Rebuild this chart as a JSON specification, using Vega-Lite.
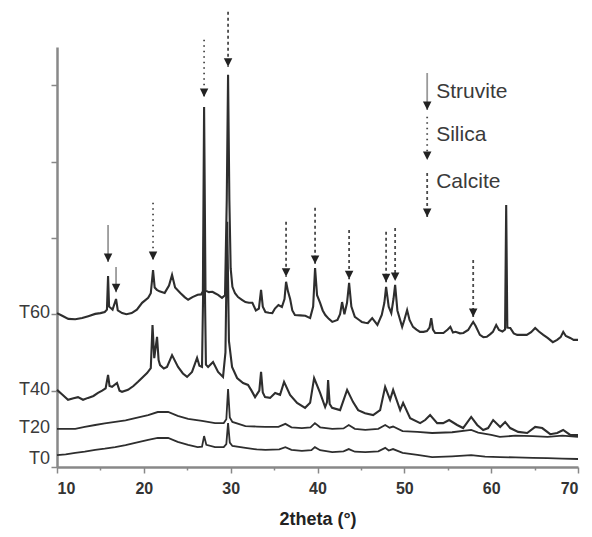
{
  "$schema": "https://vega.github.io/schema/vega-lite/v6.json",
  "width": 521,
  "height": 420,
  "autosize": {"type": "none"},
  "padding": {"left": 57, "top": 47, "right": 14, "bottom": 70},
  "config": {
    "view": {"stroke": null},
    "font": "Liberation Sans"
  },
  "datasets": {
    "T0": [
      {"theta": 10.0, "intensity": 31}, {"theta": 11.0, "intensity": 33}, {"theta": 12.1, "intensity": 37}, {"theta": 13.2, "intensity": 40},
      {"theta": 14.4, "intensity": 45}, {"theta": 15.5, "intensity": 48}, {"theta": 16.7, "intensity": 52}, {"theta": 17.9, "intensity": 57},
      {"theta": 19.0, "intensity": 63}, {"theta": 20.5, "intensity": 71}, {"theta": 21.6, "intensity": 76}, {"theta": 22.8, "intensity": 76},
      {"theta": 23.9, "intensity": 66}, {"theta": 25.1, "intensity": 58}, {"theta": 26.2, "intensity": 52}, {"theta": 26.7, "intensity": 53},
      {"theta": 26.94, "intensity": 81}, {"theta": 27.2, "intensity": 58}, {"theta": 28.2, "intensity": 52}, {"theta": 29.2, "intensity": 52},
      {"theta": 29.5, "intensity": 60}, {"theta": 29.7, "intensity": 115}, {"theta": 29.9, "intensity": 64}, {"theta": 30.2, "intensity": 55},
      {"theta": 31.7, "intensity": 50}, {"theta": 33.0, "intensity": 46}, {"theta": 34.0, "intensity": 45}, {"theta": 35.6, "intensity": 46},
      {"theta": 36.3, "intensity": 52}, {"theta": 37.0, "intensity": 45}, {"theta": 38.2, "intensity": 42}, {"theta": 39.3, "intensity": 44},
      {"theta": 39.7, "intensity": 52}, {"theta": 40.3, "intensity": 44}, {"theta": 41.7, "intensity": 39}, {"theta": 43.0, "intensity": 41},
      {"theta": 43.6, "intensity": 47}, {"theta": 44.3, "intensity": 40}, {"theta": 45.5, "intensity": 39}, {"theta": 47.0, "intensity": 41},
      {"theta": 47.8, "intensity": 50}, {"theta": 48.2, "intensity": 43}, {"theta": 48.7, "intensity": 47}, {"theta": 49.8, "intensity": 37},
      {"theta": 51.5, "intensity": 32}, {"theta": 53.2, "intensity": 26}, {"theta": 55.5, "intensity": 28}, {"theta": 57.7, "intensity": 31},
      {"theta": 59.3, "intensity": 27}, {"theta": 61.0, "intensity": 26}, {"theta": 62.8, "intensity": 25}, {"theta": 64.8, "intensity": 24},
      {"theta": 66.5, "intensity": 23}, {"theta": 68.2, "intensity": 22}, {"theta": 70.0, "intensity": 21}
    ],
    "T20": [
      {"theta": 10.0, "intensity": 100}, {"theta": 11.0, "intensity": 100}, {"theta": 12.1, "intensity": 100}, {"theta": 13.2, "intensity": 105},
      {"theta": 14.4, "intensity": 110}, {"theta": 15.5, "intensity": 114}, {"theta": 16.7, "intensity": 118}, {"theta": 17.9, "intensity": 122},
      {"theta": 19.0, "intensity": 128}, {"theta": 20.5, "intensity": 136}, {"theta": 21.6, "intensity": 144}, {"theta": 22.8, "intensity": 144},
      {"theta": 23.9, "intensity": 134}, {"theta": 25.1, "intensity": 126}, {"theta": 26.7, "intensity": 121}, {"theta": 28.2, "intensity": 115},
      {"theta": 29.2, "intensity": 115}, {"theta": 29.5, "intensity": 125}, {"theta": 29.7, "intensity": 204}, {"theta": 29.9, "intensity": 130},
      {"theta": 30.2, "intensity": 118}, {"theta": 31.7, "intensity": 107}, {"theta": 33.0, "intensity": 106}, {"theta": 34.0, "intensity": 105},
      {"theta": 35.5, "intensity": 105}, {"theta": 36.3, "intensity": 113}, {"theta": 37.0, "intensity": 104}, {"theta": 38.2, "intensity": 102},
      {"theta": 39.2, "intensity": 104}, {"theta": 39.7, "intensity": 115}, {"theta": 40.3, "intensity": 104}, {"theta": 41.7, "intensity": 100},
      {"theta": 43.0, "intensity": 101}, {"theta": 43.6, "intensity": 110}, {"theta": 44.3, "intensity": 100}, {"theta": 45.5, "intensity": 97},
      {"theta": 47.0, "intensity": 100}, {"theta": 47.8, "intensity": 110}, {"theta": 48.3, "intensity": 103}, {"theta": 48.7, "intensity": 106},
      {"theta": 49.8, "intensity": 94}, {"theta": 51.5, "intensity": 92}, {"theta": 53.2, "intensity": 89}, {"theta": 55.5, "intensity": 91},
      {"theta": 57.7, "intensity": 97}, {"theta": 58.5, "intensity": 90}, {"theta": 60.0, "intensity": 84}, {"theta": 61.0, "intensity": 79},
      {"theta": 62.8, "intensity": 82}, {"theta": 64.8, "intensity": 81}, {"theta": 66.5, "intensity": 79}, {"theta": 68.2, "intensity": 82},
      {"theta": 70.0, "intensity": 79}
    ],
    "T40": [
      {"theta": 10.0, "intensity": 202}, {"theta": 10.6, "intensity": 190}, {"theta": 11.27, "intensity": 176}, {"theta": 11.9, "intensity": 180},
      {"theta": 12.42, "intensity": 183}, {"theta": 13.0, "intensity": 176}, {"theta": 13.57, "intensity": 181}, {"theta": 14.2, "intensity": 186},
      {"theta": 14.72, "intensity": 194}, {"theta": 15.2, "intensity": 200}, {"theta": 15.6, "intensity": 206}, {"theta": 15.88, "intensity": 241},
      {"theta": 16.05, "intensity": 212}, {"theta": 16.34, "intensity": 210}, {"theta": 16.91, "intensity": 220}, {"theta": 17.2, "intensity": 200},
      {"theta": 17.49, "intensity": 197}, {"theta": 18.18, "intensity": 202}, {"theta": 18.8, "intensity": 212}, {"theta": 19.33, "intensity": 223},
      {"theta": 19.9, "intensity": 236}, {"theta": 20.37, "intensity": 246}, {"theta": 20.8, "intensity": 259}, {"theta": 21.0, "intensity": 372},
      {"theta": 21.2, "intensity": 285}, {"theta": 21.52, "intensity": 341}, {"theta": 21.7, "intensity": 280}, {"theta": 21.87, "intensity": 267},
      {"theta": 22.3, "intensity": 258}, {"theta": 22.67, "intensity": 262}, {"theta": 23.25, "intensity": 293}, {"theta": 23.94, "intensity": 262},
      {"theta": 24.5, "intensity": 245}, {"theta": 24.98, "intensity": 236}, {"theta": 25.55, "intensity": 249}, {"theta": 26.13, "intensity": 286},
      {"theta": 26.4, "intensity": 265}, {"theta": 26.7, "intensity": 262}, {"theta": 26.94, "intensity": 621}, {"theta": 27.15, "intensity": 268},
      {"theta": 27.4, "intensity": 262}, {"theta": 27.97, "intensity": 275}, {"theta": 28.55, "intensity": 249}, {"theta": 29.12, "intensity": 236},
      {"theta": 29.4, "intensity": 300}, {"theta": 29.6, "intensity": 642}, {"theta": 29.8, "intensity": 330}, {"theta": 30.16, "intensity": 262},
      {"theta": 30.74, "intensity": 233}, {"theta": 31.43, "intensity": 220}, {"theta": 32.0, "intensity": 215}, {"theta": 32.4, "intensity": 200},
      {"theta": 32.81, "intensity": 183}, {"theta": 33.3, "intensity": 200}, {"theta": 33.5, "intensity": 249}, {"theta": 33.7, "intensity": 195},
      {"theta": 33.96, "intensity": 183}, {"theta": 34.54, "intensity": 181}, {"theta": 35.12, "intensity": 194}, {"theta": 35.69, "intensity": 189},
      {"theta": 36.15, "intensity": 223}, {"theta": 36.84, "intensity": 189}, {"theta": 37.65, "intensity": 168}, {"theta": 38.57, "intensity": 155},
      {"theta": 39.15, "intensity": 168}, {"theta": 39.61, "intensity": 233}, {"theta": 40.3, "intensity": 194}, {"theta": 40.88, "intensity": 157},
      {"theta": 41.1, "intensity": 170}, {"theta": 41.22, "intensity": 228}, {"theta": 41.4, "intensity": 165}, {"theta": 41.68, "intensity": 155},
      {"theta": 42.6, "intensity": 149}, {"theta": 43.41, "intensity": 202}, {"theta": 44.1, "intensity": 170}, {"theta": 44.68, "intensity": 149},
      {"theta": 45.48, "intensity": 141}, {"theta": 46.41, "intensity": 136}, {"theta": 47.21, "intensity": 149}, {"theta": 47.79, "intensity": 210},
      {"theta": 48.36, "intensity": 176}, {"theta": 48.71, "intensity": 202}, {"theta": 49.52, "intensity": 149}, {"theta": 49.86, "intensity": 168},
      {"theta": 50.67, "intensity": 128}, {"theta": 51.82, "intensity": 115}, {"theta": 52.4, "intensity": 123}, {"theta": 52.97, "intensity": 136},
      {"theta": 53.78, "intensity": 115}, {"theta": 54.47, "intensity": 115}, {"theta": 55.16, "intensity": 123}, {"theta": 56.08, "intensity": 110},
      {"theta": 56.77, "intensity": 102}, {"theta": 57.7, "intensity": 131}, {"theta": 58.39, "intensity": 110}, {"theta": 59.08, "intensity": 97},
      {"theta": 59.65, "intensity": 102}, {"theta": 60.23, "intensity": 123}, {"theta": 61.04, "intensity": 105}, {"theta": 61.61, "intensity": 118},
      {"theta": 62.19, "intensity": 102}, {"theta": 63.11, "intensity": 92}, {"theta": 64.15, "intensity": 89}, {"theta": 65.07, "intensity": 105},
      {"theta": 65.88, "intensity": 102}, {"theta": 66.8, "intensity": 86}, {"theta": 67.6, "intensity": 89}, {"theta": 68.29, "intensity": 97},
      {"theta": 69.1, "intensity": 84}, {"theta": 70.0, "intensity": 84}
    ],
    "T60": [
      {"theta": 10.0, "intensity": 403}, {"theta": 10.6, "intensity": 396}, {"theta": 11.3, "intensity": 388}, {"theta": 12.1, "intensity": 387},
      {"theta": 12.9, "intensity": 390}, {"theta": 13.6, "intensity": 395}, {"theta": 14.4, "intensity": 401}, {"theta": 15.0, "intensity": 403},
      {"theta": 15.5, "intensity": 406}, {"theta": 15.75, "intensity": 412}, {"theta": 15.88, "intensity": 500}, {"theta": 16.0, "intensity": 420},
      {"theta": 16.4, "intensity": 412}, {"theta": 16.8, "intensity": 440}, {"theta": 17.0, "intensity": 410}, {"theta": 17.5, "intensity": 403},
      {"theta": 18.0, "intensity": 400}, {"theta": 18.6, "intensity": 403}, {"theta": 19.2, "intensity": 412}, {"theta": 19.8, "intensity": 430},
      {"theta": 20.5, "intensity": 443}, {"theta": 20.8, "intensity": 455}, {"theta": 21.06, "intensity": 516}, {"theta": 21.25, "intensity": 470},
      {"theta": 21.5, "intensity": 464}, {"theta": 21.8, "intensity": 460}, {"theta": 22.4, "intensity": 456}, {"theta": 22.9, "intensity": 475},
      {"theta": 23.25, "intensity": 503}, {"theta": 23.6, "intensity": 470}, {"theta": 24.2, "intensity": 456}, {"theta": 24.7, "intensity": 445},
      {"theta": 25.1, "intensity": 438}, {"theta": 25.6, "intensity": 445}, {"theta": 26.2, "intensity": 451}, {"theta": 26.6, "intensity": 452},
      {"theta": 26.8, "intensity": 460}, {"theta": 26.94, "intensity": 943}, {"theta": 27.1, "intensity": 462}, {"theta": 27.5, "intensity": 458},
      {"theta": 27.9, "intensity": 459}, {"theta": 28.2, "intensity": 455}, {"theta": 28.55, "intensity": 451}, {"theta": 29.0, "intensity": 443},
      {"theta": 29.35, "intensity": 450}, {"theta": 29.55, "intensity": 700}, {"theta": 29.7, "intensity": 1027}, {"theta": 29.85, "intensity": 700},
      {"theta": 30.0, "intensity": 520}, {"theta": 30.2, "intensity": 472}, {"theta": 30.5, "intensity": 455}, {"theta": 30.85, "intensity": 445},
      {"theta": 31.3, "intensity": 438}, {"theta": 31.7, "intensity": 432}, {"theta": 32.1, "intensity": 430}, {"theta": 32.5, "intensity": 430},
      {"theta": 32.9, "intensity": 410}, {"theta": 33.25, "intensity": 415}, {"theta": 33.5, "intensity": 464}, {"theta": 33.7, "intensity": 420},
      {"theta": 34.0, "intensity": 406}, {"theta": 34.4, "intensity": 404}, {"theta": 34.8, "intensity": 403}, {"theta": 35.1, "intensity": 415},
      {"theta": 35.5, "intensity": 424}, {"theta": 35.9, "intensity": 419}, {"theta": 36.2, "intensity": 440}, {"theta": 36.38, "intensity": 485},
      {"theta": 36.6, "intensity": 460}, {"theta": 36.85, "intensity": 440}, {"theta": 37.1, "intensity": 410}, {"theta": 37.4, "intensity": 398},
      {"theta": 38.0, "intensity": 397}, {"theta": 38.6, "intensity": 396}, {"theta": 39.15, "intensity": 390}, {"theta": 39.5, "intensity": 420},
      {"theta": 39.72, "intensity": 521}, {"theta": 39.95, "intensity": 450}, {"theta": 40.3, "intensity": 430}, {"theta": 40.6, "intensity": 410},
      {"theta": 40.9, "intensity": 398}, {"theta": 41.3, "intensity": 388}, {"theta": 41.7, "intensity": 380}, {"theta": 42.3, "intensity": 385},
      {"theta": 42.6, "intensity": 400}, {"theta": 42.83, "intensity": 432}, {"theta": 43.1, "intensity": 400}, {"theta": 43.4, "intensity": 430},
      {"theta": 43.64, "intensity": 482}, {"theta": 43.9, "intensity": 420}, {"theta": 44.3, "intensity": 393}, {"theta": 44.8, "intensity": 385},
      {"theta": 45.1, "intensity": 380}, {"theta": 45.5, "intensity": 378}, {"theta": 45.8, "intensity": 377}, {"theta": 46.3, "intensity": 390},
      {"theta": 46.9, "intensity": 372}, {"theta": 47.4, "intensity": 398}, {"theta": 47.7, "intensity": 430}, {"theta": 47.9, "intensity": 472},
      {"theta": 48.2, "intensity": 420}, {"theta": 48.5, "intensity": 403}, {"theta": 48.75, "intensity": 440}, {"theta": 48.94, "intensity": 477},
      {"theta": 49.2, "intensity": 410}, {"theta": 49.75, "intensity": 367}, {"theta": 50.0, "intensity": 385}, {"theta": 50.32, "intensity": 411},
      {"theta": 50.6, "intensity": 385}, {"theta": 51.0, "intensity": 367}, {"theta": 51.4, "intensity": 360}, {"theta": 51.8, "intensity": 354},
      {"theta": 52.2, "intensity": 354}, {"theta": 52.6, "intensity": 356}, {"theta": 52.9, "intensity": 365}, {"theta": 53.1, "intensity": 390},
      {"theta": 53.3, "intensity": 360}, {"theta": 53.55, "intensity": 351}, {"theta": 54.0, "intensity": 351}, {"theta": 54.5, "intensity": 351},
      {"theta": 55.0, "intensity": 360}, {"theta": 55.3, "intensity": 367}, {"theta": 55.6, "intensity": 352}, {"theta": 55.9, "intensity": 354},
      {"theta": 56.4, "intensity": 350}, {"theta": 56.8, "intensity": 351}, {"theta": 57.35, "intensity": 359}, {"theta": 57.7, "intensity": 372},
      {"theta": 57.93, "intensity": 380}, {"theta": 58.2, "intensity": 370}, {"theta": 58.7, "intensity": 346}, {"theta": 59.1, "intensity": 340},
      {"theta": 59.5, "intensity": 341}, {"theta": 59.9, "intensity": 348}, {"theta": 60.2, "intensity": 354}, {"theta": 60.58, "intensity": 372},
      {"theta": 60.9, "intensity": 359}, {"theta": 61.3, "intensity": 355}, {"theta": 61.6, "intensity": 360}, {"theta": 61.73, "intensity": 686},
      {"theta": 61.86, "intensity": 365}, {"theta": 62.2, "intensity": 364}, {"theta": 62.6, "intensity": 350}, {"theta": 63.0, "intensity": 346},
      {"theta": 63.5, "intensity": 346}, {"theta": 64.1, "intensity": 346}, {"theta": 64.6, "intensity": 353}, {"theta": 65.07, "intensity": 364},
      {"theta": 65.5, "intensity": 355}, {"theta": 66.0, "intensity": 346}, {"theta": 66.5, "intensity": 338}, {"theta": 67.1, "intensity": 327},
      {"theta": 67.6, "intensity": 333}, {"theta": 68.0, "intensity": 340}, {"theta": 68.3, "intensity": 354}, {"theta": 68.6, "intensity": 343},
      {"theta": 69.1, "intensity": 338}, {"theta": 69.5, "intensity": 333}, {"theta": 70.0, "intensity": 333}
    ],
    "markers": [
      {"phase": "Struvite", "theta": 15.88, "top": 634, "tip": 537},
      {"phase": "Struvite", "theta": 16.8, "top": 524, "tip": 458},
      {"phase": "Silica", "theta": 21.06, "top": 692, "tip": 542},
      {"phase": "Silica", "theta": 26.94, "top": 1119, "tip": 969},
      {"phase": "Calcite", "theta": 29.7, "top": 1192, "tip": 1048},
      {"phase": "Calcite", "theta": 36.38, "top": 642, "tip": 498},
      {"phase": "Calcite", "theta": 39.72, "top": 679, "tip": 532},
      {"phase": "Calcite", "theta": 43.64, "top": 621, "tip": 492},
      {"phase": "Calcite", "theta": 47.9, "top": 616, "tip": 484},
      {"phase": "Calcite", "theta": 48.94, "top": 626, "tip": 487},
      {"phase": "Calcite", "theta": 57.93, "top": 542, "tip": 393},
      {"phase": "Struvite", "theta": 52.63, "top": 1032, "tip": 935},
      {"phase": "Silica", "theta": 52.63, "top": 917, "tip": 804},
      {"phase": "Calcite", "theta": 52.63, "top": 770, "tip": 655}
    ],
    "keyText": [
      {"phase": "Struvite", "theta": 53.67, "intensity": 982},
      {"phase": "Silica", "theta": 53.67, "intensity": 870},
      {"phase": "Calcite", "theta": 53.67, "intensity": 747}
    ],
    "sampleLabels": [
      {"sample": "T60", "theta": 10, "intensity": 403},
      {"sample": "T40", "theta": 10, "intensity": 202},
      {"sample": "T20", "theta": 10, "intensity": 102},
      {"sample": "T0", "theta": 10, "intensity": 21}
    ]
  },
  "layer": [
    {
      "layer": [
        {"data": {"name": "T0"}, "mark": {"type": "line", "color": "#2e2e2e", "strokeWidth": 1.8}, "encoding": {}},
        {"data": {"name": "T20"}, "mark": {"type": "line", "color": "#2e2e2e", "strokeWidth": 1.8}, "encoding": {}},
        {"data": {"name": "T40"}, "mark": {"type": "line", "color": "#2e2e2e", "strokeWidth": 2.1}, "encoding": {}},
        {"data": {"name": "T60"}, "mark": {"type": "line", "color": "#2e2e2e", "strokeWidth": 2.1}, "encoding": {}}
      ],
      "encoding": {
        "x": {
          "field": "theta", "type": "quantitative",
          "scale": {"domain": [10, 70], "nice": false, "zero": false},
          "axis": {
            "values": [10, 15, 20, 25, 30, 35, 40, 45, 50, 55, 60, 65, 70],
            "labelExpr": "datum.value % 10 === 0 ? datum.label : ''",
            "tickSize": {"condition": {"test": "datum.value % 10 === 0", "value": 6}, "value": 3},
            "tickColor": "#888", "tickWidth": 1.5,
            "domainColor": "#888", "domainWidth": 2.5,
            "grid": false,
            "labelFontSize": 16, "labelFontWeight": "bold", "labelColor": "#333", "labelPadding": 7,
            "title": "2theta (°)", "titleFontSize": 18, "titleFontWeight": "bold", "titleColor": "#222", "titlePadding": 14
          }
        },
        "y": {
          "field": "intensity", "type": "quantitative",
          "scale": {"domain": [0, 1100], "nice": false, "zero": false},
          "axis": {
            "values": [0, 100, 200, 300, 400, 500, 600, 700, 800, 900, 1000, 1100],
            "labels": false, "title": null, "grid": false,
            "tickSize": {"condition": {"test": "datum.value % 200 === 0", "value": 6}, "value": 4},
            "tickColor": "#888", "tickWidth": 1.5,
            "domainColor": "#888", "domainWidth": 2.5
          }
        }
      }
    },
    {
      "data": {"name": "markers"},
      "mark": {"type": "rule", "strokeWidth": 1.8},
      "encoding": {
        "x": {"field": "theta", "type": "quantitative"},
        "y": {"field": "top", "type": "quantitative"},
        "y2": {"field": "tip"},
        "strokeDash": {
          "field": "phase", "type": "nominal",
          "scale": {"domain": ["Struvite", "Silica", "Calcite"], "range": [[1, 0], [1.5, 4], [3, 3]]},
          "legend": null
        },
        "color": {
          "field": "phase", "type": "nominal",
          "scale": {"domain": ["Struvite", "Silica", "Calcite"], "range": ["#9a9a9a", "#4a4a4a", "#4a4a4a"]},
          "legend": null
        }
      }
    },
    {
      "data": {"name": "markers"},
      "mark": {"type": "point", "shape": "M-1,-2L1,-2L0,0Z", "filled": true, "size": 72, "color": "#222", "opacity": 1},
      "encoding": {
        "x": {"field": "theta", "type": "quantitative"},
        "y": {"field": "tip", "type": "quantitative"}
      }
    },
    {
      "data": {"name": "keyText"},
      "mark": {"type": "text", "align": "left", "baseline": "middle", "fontSize": 21, "color": "#3a3a3a"},
      "encoding": {
        "x": {"field": "theta", "type": "quantitative"},
        "y": {"field": "intensity", "type": "quantitative"},
        "text": {"field": "phase"}
      }
    },
    {
      "data": {"name": "sampleLabels"},
      "mark": {"type": "text", "align": "right", "baseline": "middle", "dx": -7, "fontSize": 18, "color": "#3a3a3a"},
      "encoding": {
        "x": {"field": "theta", "type": "quantitative"},
        "y": {"field": "intensity", "type": "quantitative"},
        "text": {"field": "sample"}
      }
    }
  ]
}
